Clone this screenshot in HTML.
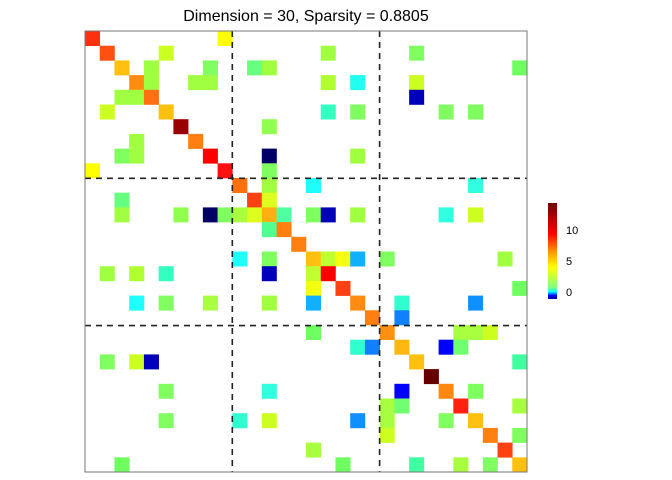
<!DOCTYPE html>
<html><head><meta charset="utf-8"><style>
html,body{margin:0;padding:0;background:#fff;width:672px;height:480px;overflow:hidden}
</style></head><body>
<svg id="s" width="672" height="480" xmlns="http://www.w3.org/2000/svg" font-family="Liberation Sans, sans-serif">
<defs><linearGradient id="jet" x1="0" y1="1" x2="0" y2="0">
<stop offset="0" stop-color="#00008f"/><stop offset="0.035" stop-color="#0000ff"/><stop offset="0.075" stop-color="#00ffff"/>
<stop offset="0.12" stop-color="#80ff80"/><stop offset="0.33" stop-color="#ffff00"/><stop offset="0.5" stop-color="#ff9000"/><stop offset="0.68" stop-color="#ff0000"/><stop offset="1" stop-color="#700000"/>
</linearGradient></defs>
<text x="306" y="21" font-size="16" text-anchor="middle" fill="#000">Dimension = 30, Sparsity = 0.8805</text>
<g id="cells"></g>
<g stroke="#222" stroke-width="1.6" stroke-dasharray="6,5" fill="none">
<line x1="232.3" y1="31" x2="232.3" y2="472"/><line x1="379.6" y1="31" x2="379.6" y2="472"/>
<line x1="85" y1="178.3" x2="527" y2="178.3"/><line x1="85" y1="325.6" x2="527" y2="325.6"/>
</g>
<rect x="85" y="31" width="442" height="441" fill="none" stroke="#777" stroke-width="1"/>
<rect x="548" y="203" width="9" height="96" fill="url(#jet)"/>
<g font-size="11" fill="#000"><text x="566" y="234">10</text><text x="566" y="265">5</text><text x="566" y="296">0</text></g>
</svg>
<script>
var d=[
[0,0,"#ff3010"],[0,9,"#ffff00"],
[1,1,"#ff5010"],[1,5,"#ccff22"],[1,16,"#a0ff40"],[1,22,"#80ff60"],
[2,2,"#ffc010"],[2,4,"#a0ff40"],[2,8,"#80ff60"],[2,11,"#66ff80"],[2,12,"#a0ff40"],[2,29,"#70ff60"],
[3,3,"#ff8c10"],[3,4,"#a0ff40"],[3,7,"#a0ff40"],[3,8,"#a0ff40"],[3,16,"#b0ff30"],[3,18,"#20fff0"],[3,22,"#ccff20"],
[4,2,"#a0ff40"],[4,3,"#a0ff40"],[4,4,"#ff7010"],[4,22,"#0000bb"],
[5,1,"#ccff22"],[5,5,"#ffc010"],[5,16,"#33ffc0"],[5,18,"#80ff60"],[5,24,"#80ff60"],[5,26,"#80ff60"],
[6,6,"#990000"],[6,12,"#90ff50"],
[7,3,"#a0ff40"],[7,7,"#ff8010"],
[8,2,"#80ff60"],[8,3,"#a0ff40"],[8,8,"#ff0000"],[8,12,"#000066"],[8,18,"#a0ff40"],
[9,0,"#ffff00"],[9,9,"#ff1010"],[9,12,"#80ff60"],
[10,10,"#ff7010"],[10,12,"#a0ff40"],[10,15,"#20ffff"],[10,26,"#30ffe0"],
[11,2,"#66ff80"],[11,11,"#ff4010"],[11,12,"#ddff20"],
[12,2,"#a0ff40"],[12,6,"#90ff50"],[12,8,"#000066"],[12,9,"#80ff60"],[12,10,"#a8ff40"],[12,11,"#ddff20"],[12,12,"#ffb010"],[12,13,"#50ffa0"],[12,15,"#80ff60"],[12,16,"#0000bb"],[12,18,"#a0ff40"],[12,24,"#30ffe0"],[12,26,"#ccff20"],
[13,12,"#50ff90"],[13,13,"#ff8010"],
[14,14,"#ff7f10"],
[15,10,"#20ffff"],[15,12,"#80ff60"],[15,15,"#ffc010"],[15,16,"#c0ff30"],[15,17,"#f5ff10"],[15,18,"#10b0ff"],[15,20,"#80ff60"],[15,28,"#a0ff40"],
[16,1,"#a0ff40"],[16,3,"#b0ff30"],[16,5,"#33ffc0"],[16,12,"#0000bb"],[16,15,"#c0ff30"],[16,16,"#ff0000"],
[17,15,"#f5ff10"],[17,17,"#ff4010"],[17,29,"#70ff60"],
[18,3,"#20ffff"],[18,5,"#80ff60"],[18,8,"#a8ff40"],[18,12,"#a0ff40"],[18,15,"#10b0ff"],[18,18,"#ff8c10"],[18,21,"#30ffd0"],[18,26,"#1090ff"],
[19,19,"#ff7f10"],[19,21,"#1080ff"],
[20,15,"#70ff60"],[20,20,"#ff9010"],[20,25,"#a8ff40"],[20,26,"#a8ff40"],[20,27,"#ccff20"],
[21,18,"#30ffd0"],[21,19,"#1080ff"],[21,21,"#ffb810"],[21,24,"#0000ff"],[21,25,"#70ff70"],
[22,1,"#80ff60"],[22,3,"#ccff20"],[22,4,"#0000bb"],[22,22,"#ffc010"],[22,29,"#40ffa0"],
[23,23,"#660000"],
[24,5,"#80ff60"],[24,12,"#30ffe0"],[24,21,"#0000ff"],[24,24,"#ff8810"],[24,26,"#80ff60"],
[25,20,"#a8ff40"],[25,21,"#70ff70"],[25,25,"#ff2010"],[25,29,"#a8ff40"],
[26,5,"#80ff60"],[26,10,"#30ffd0"],[26,12,"#ccff20"],[26,18,"#1090ff"],[26,20,"#a8ff40"],[26,24,"#80ff60"],[26,26,"#ffc010"],
[27,20,"#ccff20"],[27,27,"#ff8010"],[27,29,"#80ff60"],
[28,15,"#a8ff40"],[28,28,"#ff4010"],
[29,2,"#70ff60"],[29,17,"#70ff60"],[29,22,"#40ffa0"],[29,25,"#a8ff40"],[29,27,"#80ff60"],[29,29,"#ffc010"]
];
var g=document.getElementById("cells"),cw=442/30,ch=441/30,h="";
d.forEach(function(e){var x=85+e[1]*cw,y=31+e[0]*ch;
h+='<rect x="'+x.toFixed(2)+'" y="'+y.toFixed(2)+'" width="'+(cw+0.3).toFixed(2)+'" height="'+(ch+0.3).toFixed(2)+'" fill="'+e[2]+'"/>';});
g.innerHTML=h;
</script>
</body></html>
